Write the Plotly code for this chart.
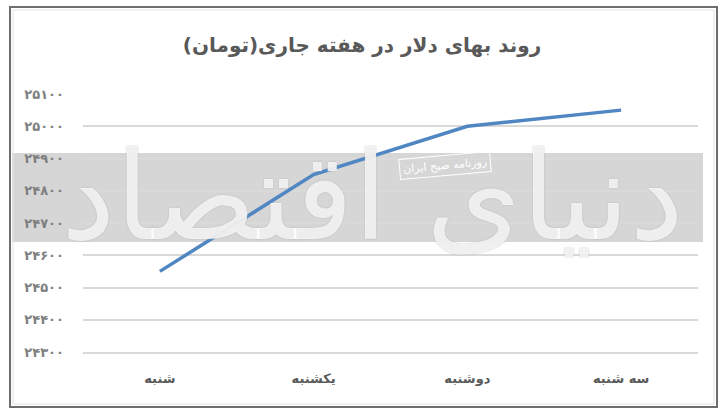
import plotly.graph_objects as go

categories = ["شنبه", "یکشنبه", "دوشنبه", "سه شنبه"]
values = [24550, 24850, 25000, 25050]
y_tick_vals = [24300, 24400, 24500, 24600, 24700, 24800, 24900, 25000, 25100]
y_tick_text = ["۲۴۳۰۰", "۲۴۴۰۰", "۲۴۵۰۰", "۲۴۶۰۰", "۲۴۷۰۰", "۲۴۸۰۰", "۲۴۹۰۰", "۲۵۰۰۰", "۲۵۱۰۰"]
title_text = "روند بهای دلار در هفته جاری(تومان)"
watermark_big = "دنیای اقتصاد"
watermark_small = "روزنامه صبح ایران"

W, H = 724, 416
ML, MR, MT, MB = 83, 26, 94, 64
PW = W - ML - MR
PH = H - MT - MB


def px(x):
    return (x - ML) / PW


def py(y):
    return (H - MB - y) / PH


FONT = "DejaVu Sans"

fig = go.Figure()
fig.add_trace(go.Scatter(
    x=categories, y=values, mode="lines",
    line=dict(color="#5087c2", width=3.5),
    hoverinfo="skip", showlegend=False,
))

shapes = [
    dict(type="rect", xref="paper", yref="paper", x0=px(12), x1=px(703), y0=py(242), y1=py(153),
         fillcolor="#d6d6d6", line=dict(width=0), layer="below"),
    dict(type="rect", xref="paper", yref="paper", x0=px(10), x1=px(717), y0=py(407), y1=py(7),
         fillcolor="rgba(0,0,0,0)", line=dict(color="#6e6e6e", width=2)),
    dict(type="rect", xref="paper", yref="paper", x0=px(13), x1=px(714), y0=py(404), y1=py(10),
         fillcolor="rgba(0,0,0,0)", line=dict(color="#e4e4e4", width=1)),
]

annotations = [
    dict(text=watermark_big, xref="paper", yref="paper", x=px(372), y=py(197),
         showarrow=False, font=dict(family=FONT, size=122, color="rgba(255,255,255,0.8)",
                                    shadow="0px 0px 1.5px #a0a0a0"),
         xanchor="center", yanchor="middle"),
    dict(text=watermark_small, xref="paper", yref="paper", x=px(445), y=py(165),
         showarrow=False, textangle=-5,
         font=dict(family=FONT, size=11, color="white"),
         bordercolor="white", borderwidth=1, borderpad=3,
         xanchor="center", yanchor="middle"),
]

fig.update_layout(
    width=W, height=H,
    margin=dict(l=ML, r=MR, t=MT, b=MB),
    paper_bgcolor="white", plot_bgcolor="rgba(0,0,0,0)",
    title=dict(text=title_text, x=0.5, xref="container", xanchor="center",
               y=1 - 45 / H, yanchor="middle",
               font=dict(family=FONT, size=20, color="#595959", weight="bold")),
    shapes=shapes,
    annotations=annotations,
    xaxis=dict(type="category", range=[-0.5, 3.5], showgrid=False,
               showline=True, linecolor="#d9d9d9", linewidth=1.5,
               ticks="", ticklabelstandoff=14,
               tickfont=dict(family=FONT, size=13, color="#595959", weight="bold"),
               fixedrange=True),
    yaxis=dict(range=[24300, 25100], tickvals=y_tick_vals, ticktext=y_tick_text,
               showgrid=True, gridcolor="#d9d9d9", gridwidth=1.5,
               zeroline=False, showline=False, ticks="",
               ticklabelstandoff=18,
               tickfont=dict(family=FONT, size=13, color="#7f7f7f", weight="bold"),
               fixedrange=True),
)

fig.write_html("out.html", config={"displayModeBar": False},
               post_script="document.body.style.margin='0';document.body.style.overflow='hidden';")
